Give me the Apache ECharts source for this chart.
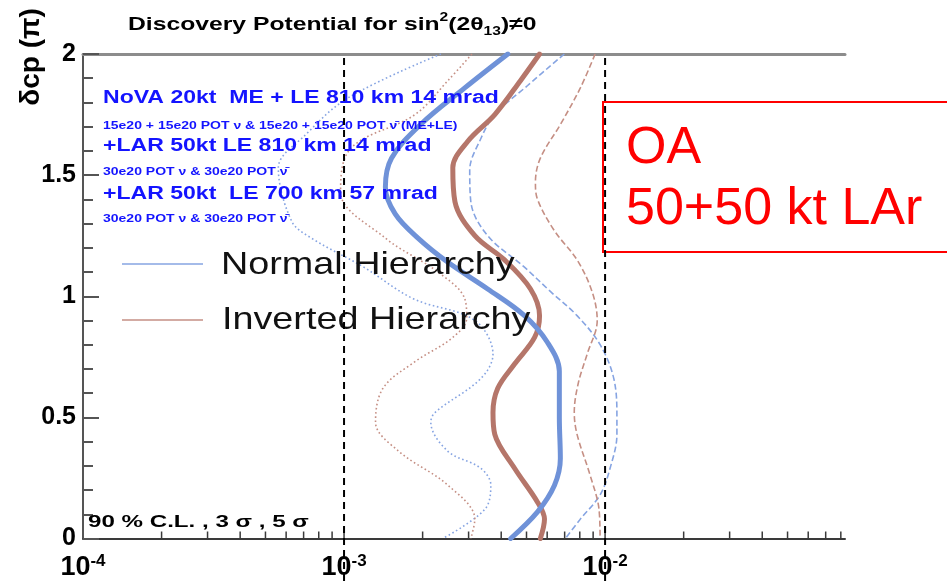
<!DOCTYPE html>
<html><head><meta charset="utf-8">
<script src="https://cdn.jsdelivr.net/npm/echarts@6/dist/echarts.min.js"></script>
<style>html,body{margin:0;padding:0;background:#fff}#c{width:947px;height:581px}</style>
</head><body><div id="c"></div>
<script>
// ---- data (x = sin^2(2θ13), y = δcp in units of π) ----
const xMajorTicks = [1e-3, 1e-2];
const xMinorTicks = [2e-4,3e-4,4e-4,5e-4,6e-4,7e-4,8e-4,9e-4,2e-3,3e-3,4e-3,5e-3,6e-3,7e-3,8e-3,9e-3,2e-2,3e-2,4e-2,5e-2,6e-2,7e-2,8e-2];
const refLines = [1e-3, 1e-2];
const yTickLabels = ['0','0.5','1','1.5','2'];

// Normal hierarchy: 90% CL (dotted), 3σ (thick), 5σ (dashed)
const nh90 = [[2.35e-3,2.00],[1.04e-3,1.82],[0.71e-3,1.665],[0.56e-3,1.53],[0.63e-3,1.31],[0.75e-3,1.24],[1.19e-3,1.12],[1.84e-3,0.99],[3.17e-3,0.90],[3.72e-3,0.76],[3.34e-3,0.66],[2.23e-3,0.52],[2.15e-3,0.48],[2.50e-3,0.36],[3.34e-3,0.29],[3.65e-3,0.22],[3.46e-3,0.12],[2.39e-3,0.00]];
const nh3 = [[4.24e-3,2.00],[2.90e-3,1.86],[1.97e-3,1.71],[1.52e-3,1.57],[1.44e-3,1.45],[1.57e-3,1.34],[1.92e-3,1.24],[2.50e-3,1.14],[3.55e-3,1.03],[4.91e-3,0.92],[6.01e-3,0.81],[6.68e-3,0.69],[6.68e-3,0.50],[6.74e-3,0.33],[6.40e-3,0.22],[5.51e-3,0.11],[4.35e-3,0.00]];
const nh5 = [[6.98e-3,2.00],[5.05e-3,1.87],[3.78e-3,1.75],[3.34e-3,1.65],[3.03e-3,1.52],[3.06e-3,1.39],[3.55e-3,1.25],[4.91e-3,1.12],[6.17e-3,1.02],[7.81e-3,0.92],[9.57e-3,0.80],[10.8e-3,0.66],[11.1e-3,0.50],[11.1e-3,0.43],[10.45e-3,0.29],[9.57e-3,0.18],[8.04e-3,0.08],[7.05e-3,0.00]];
// Inverted hierarchy
const ih90 = [[3.09e-3,2.00],[2.50e-3,1.89],[1.87e-3,1.75],[1.06e-3,1.61],[0.97e-3,1.43],[1.44e-3,1.24],[2.29e-3,1.10],[2.90e-3,0.99],[2.95e-3,0.91],[2.61e-3,0.83],[1.87e-3,0.73],[1.41e-3,0.62],[1.32e-3,0.48],[1.62e-3,0.36],[2.50e-3,0.22],[3.17e-3,0.08],[3.06e-3,0.00]];
const ih3 = [[5.61e-3,2.00],[4.74e-3,1.89],[3.78e-3,1.75],[2.98e-3,1.64],[2.61e-3,1.53],[2.66e-3,1.39],[3.17e-3,1.25],[4.12e-3,1.15],[5.18e-3,1.03],[5.61e-3,0.92],[5.37e-3,0.83],[4.50e-3,0.72],[3.88e-3,0.62],[3.72e-3,0.52],[3.78e-3,0.43],[4.50e-3,0.29],[5.51e-3,0.15],[5.86e-3,0.08],[5.65e-3,0.00]];
const ih5 = [[9.16e-3,2.00],[8.04e-3,1.86],[6.75e-3,1.71],[5.65e-3,1.57],[5.41e-3,1.47],[5.51e-3,1.40],[6.40e-3,1.27],[7.81e-3,1.15],[8.91e-3,1.02],[9.33e-3,0.90],[8.53e-3,0.76],[7.89e-3,0.64],[7.62e-3,0.52],[7.81e-3,0.43],[8.77e-3,0.26],[9.48e-3,0.12],[9.57e-3,0.00]];

const F = '"Liberation Sans", Arial, Helvetica, sans-serif';
const BLUE = '#6f92d8', BLUE_L = '#86a4e2';
const RED = '#b5766a', RED_L = '#c58f84';

function curve(name, data, color, width, type, cap) {
  return {type:'line', name, data, smooth:0.35, symbol:'none', showSymbol:false, silent:true,
    lineStyle:{color, width, type, cap: cap || 'round'}, z:3};
}
function txt(x, y, text, size, extra, sx) {
  return Object.assign({type:'text', x, y, scaleX: sx || 1, z:50,
    style:Object.assign({text, fontFamily:F, fontSize:size, fill:'#000', align:'left', verticalAlign:'middle'}, extra || {})});
}

const chart = echarts.init(document.getElementById('c'));
chart.setOption({
  animation:false,
  backgroundColor:'#fff',
  grid:{left:83, right:102, top:54, bottom:41},
  xAxis:[{
    type:'log', logBase:10, min:1e-4, max:0.083,
    axisLine:{lineStyle:{color:'#3a3a3a', width:2}},
    axisTick:{show:false}, splitLine:{show:false}, minorTick:{show:false},
    axisLabel:{
      margin:14, showMinLabel:true, showMaxLabel:false,
      formatter:v=>{const l=Math.log10(v), e=Math.round(l); if(Math.abs(l-e)>0.01) return ''; return '{b|10}{e|'+e+'}';},
      rich:{b:{fontFamily:F, fontWeight:'bold', fontSize:27, color:'#000', lineHeight:30},
            e:{fontFamily:F, fontWeight:'bold', fontSize:17, color:'#000', lineHeight:17, verticalAlign:'top'}}
    }
  },{
    type:'log', logBase:10, min:1e-4, max:0.083, position:'top',
    axisLine:{lineStyle:{color:'#8c8c8c', width:3}},
    axisTick:{show:false}, axisLabel:{show:false}, splitLine:{show:false}
  }],
  yAxis:{
    type:'value', min:0, max:2, interval:0.5,
    axisLine:{show:true, lineStyle:{color:'#555', width:2}},
    axisTick:{show:true, inside:true, length:16, lineStyle:{color:'#555', width:2}},
    minorTick:{show:true, splitNumber:5, length:10, lineStyle:{color:'#555', width:2}},
    splitLine:{show:false},
    axisLabel:{fontFamily:F, fontWeight:'bold', fontSize:25, color:'#000', margin:7,
      formatter:v=>yTickLabels[Math.round(v*2)]}
  },
  series:[
    curve('NH 90% CL', nh90, BLUE_L, 1.6, [1.6,2.6], 'butt'),
    curve('IH 90% CL', ih90, RED_L, 1.6, [1.6,2.6], 'butt'),
    curve('NH 5σ', nh5, BLUE_L, 1.6, [6,3], 'butt'),
    curve('IH 5σ', ih5, RED_L, 1.6, [6,3], 'butt'),
    curve('IH 3σ', ih3, RED, 5, 'solid'),
    curve('NH 3σ', nh3, BLUE, 5, 'solid'),
    {type:'custom', silent:true, z:4, clip:false,
      data: xMinorTicks.concat(xMajorTicks).map(v=>[v,0]),
      encode:{x:0,y:1},
      renderItem:(p, api)=>{const v=api.value(0); const c=api.coord([v,0]); const len = xMajorTicks.indexOf(v)>=0 ? 12 : 7;
        return {type:'line', shape:{x1:c[0], y1:c[1], x2:c[0], y2:c[1]-len}, style:{stroke:'#3a3a3a', lineWidth:1.5}};}
    },
    {type:'custom', silent:true, z:60, clip:false,
      data: refLines.map(v=>[v,2]),
      encode:{x:0,y:1},
      renderItem:(p, api)=>{const c=api.coord([api.value(0),2]);
        return {type:'line', shape:{x1:c[0], y1:c[1]+4, x2:c[0], y2:api.getHeight()}, style:{stroke:'#000', lineWidth:2, lineDash:[7,5]}};}
    }
  ],
  graphic:[
    // title
    {type:'text', x:128, y:25, scaleX:1.3, z:50, style:{
      text:'{t|Discovery Potential for sin}{s|2}{t|(2θ}{b|13}{t|)≠0}', verticalAlign:'middle', align:'left',
      rich:{t:{fontFamily:F, fontWeight:'bold', fontSize:19, lineHeight:26, fill:'#000'},
            s:{fontFamily:F, fontWeight:'bold', fontSize:12, lineHeight:12, verticalAlign:'top', fill:'#000'},
            b:{fontFamily:F, fontWeight:'bold', fontSize:12, lineHeight:12, verticalAlign:'bottom', fill:'#000'}}}},
    // y axis title
    {type:'text', x:31, y:57, rotation:Math.PI/2, z:50, style:{text:'δcp (π)', fontFamily:F, fontWeight:'bold', fontSize:28, fill:'#000', align:'center', verticalAlign:'middle'}},
    // blue annotations
    txt(103, 98, 'NoVA 20kt  ME + LE 810 km 14 mrad', 18, {fontWeight:'bold', fill:'#1414ff'}, 1.28),
    txt(103, 126, '15e20 + 15e20 POT ν & 15e20 + 15e20 POT ν̄ (ME+LE)', 10, {fontWeight:'bold', fill:'#1414ff'}, 1.4),
    txt(103, 146, '+LAR 50kt LE 810 km 14 mrad', 18, {fontWeight:'bold', fill:'#1414ff'}, 1.28),
    txt(103, 172, '30e20 POT ν & 30e20 POT ν̄', 10, {fontWeight:'bold', fill:'#1414ff'}, 1.4),
    txt(103, 194, '+LAR 50kt  LE 700 km 57 mrad', 18, {fontWeight:'bold', fill:'#1414ff'}, 1.28),
    txt(103, 219, '30e20 POT ν & 30e20 POT ν̄', 10, {fontWeight:'bold', fill:'#1414ff'}, 1.4),
    // CL note
    txt(88, 522, '90 % C.L. , 3 σ , 5 σ', 17, {fontWeight:'bold'}, 1.42),
    // legend
    {type:'line', z:50, shape:{x1:122, y1:264, x2:203, y2:264}, style:{stroke:BLUE_L, lineWidth:1.5}},
    {type:'line', z:50, shape:{x1:122, y1:320, x2:203, y2:320}, style:{stroke:RED_L, lineWidth:1.5}},
    txt(221, 265, 'Normal Hierarchy', 32, {fill:'#111'}, 1.18),
    txt(222, 320, 'Inverted Hierarchy', 32, {fill:'#111'}, 1.18),
    // OA box
    {type:'rect', z:55, shape:{x:603, y:102, width:360, height:150}, style:{fill:'#fff', stroke:'#ff0000', lineWidth:2}},
    Object.assign(txt(626, 149, 'OA', 52, {fill:'#ff0000'}, 1), {z:70}),
    Object.assign(txt(626, 210, '50+50 kt LAr', 52, {fill:'#ff0000'}, 1), {z:70})
  ]
});
</script></body></html>
